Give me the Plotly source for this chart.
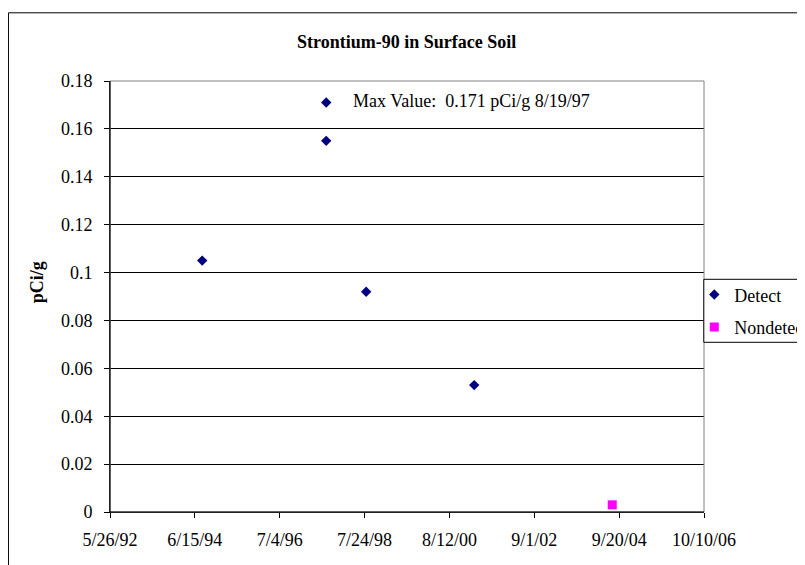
import plotly.graph_objects as go

# Data
detect_dates = ["1994-08-19", "1997-08-19", "1997-08-19", "1998-08-07", "2001-03-19"]
detect_values = [0.105, 0.171, 0.155, 0.092, 0.053]
nondetect_dates = ["2004-07-21"]
nondetect_values = [0.003]

title_text = "Strontium-90 in Surface Soil"
y_title = "pCi/g"
max_label = "Max Value:  0.171 pCi/g 8/19/97"

FONT = "Liberation Serif"
W, H = 805, 565
OFF = 8  # page body margin
# plot area in window pixels: x 110..703.7, y 80.7..511.7
L = 110 - OFF
R = W - (703.7 - OFF)
T = 80.7 - OFF
B = H - (511.7 - OFF)
PW = W - L - R
PH = H - T - B

def px_x(p):
    return (p - OFF - L) / PW

def px_y(p):
    return (H - B - (p - OFF)) / PH

fig = go.Figure()
fig.add_trace(go.Scatter(
    x=detect_dates, y=detect_values, mode="markers", name="Detect",
    legendgroup="a",
    marker=dict(symbol="diamond", size=8, color="#000080", line=dict(width=0)),
))
fig.add_trace(go.Scatter(
    x=nondetect_dates, y=nondetect_values, mode="markers", name="Nondetect",
    legendgroup="b",
    marker=dict(symbol="square", size=9, color="#FF00FF", line=dict(width=0)),
))

DAY = 86400000
fig.update_layout(
    width=W, height=H,
    margin=dict(l=L, r=R, t=T, b=B, pad=0, autoexpand=False),
    paper_bgcolor="white", plot_bgcolor="white",
    font=dict(family=FONT, size=18, color="black"),
    showlegend=True,
    legend=dict(
        x=px_x(694), xanchor="left", y=px_y(276), yanchor="top",
        borderwidth=0, bgcolor="rgba(0,0,0,0)",
        font=dict(family=FONT, size=18, color="black"),
        traceorder="grouped", tracegroupgap=6,
        itemsizing="trace",
    ),
    xaxis=dict(
        type="date", automargin=False,
        range=["1992-05-26", "2006-10-10"],
        tick0="1992-05-26", dtick=750 * DAY,
        tickformat="%-m/%-d/%y",
        showgrid=False, zeroline=False,
        showline=True, linecolor="black", linewidth=1,
        ticks="outside", ticklen=5, tickcolor="black", tickwidth=1,
        tickfont=dict(family=FONT, size=18, color="black"),
        ticklabelstandoff=6,
    ),
    yaxis=dict(
        automargin=False,
        range=[0, 0.18], dtick=0.02, tick0=0,
        showgrid=True, gridcolor="black", gridwidth=1,
        zeroline=False,
        showline=True, linecolor="black", linewidth=1,
        ticks="outside", ticklen=5, tickcolor="black", tickwidth=1,
        tickfont=dict(family=FONT, size=18, color="black"),
        ticklabelstandoff=8,
    ),
    shapes=[
        dict(type="rect", xref="paper", yref="paper", x0=0, x1=1, y0=0, y1=1,
             line=dict(color="#808080", width=1), layer="above"),
        dict(type="line", xref="paper", yref="paper", x0=0, x1=0, y0=0, y1=1,
             line=dict(color="black", width=1), layer="above"),
        dict(type="line", xref="paper", yref="paper", x0=0, x1=1, y0=0, y1=0,
             line=dict(color="black", width=1), layer="above"),
        # outer chart frame
        dict(type="rect", xref="paper", yref="paper",
             x0=px_x(8.5), x1=px_x(900), y0=px_y(700), y1=px_y(12.5),
             line=dict(color="black", width=1), layer="below"),
        # legend box
        dict(type="rect", xref="paper", yref="paper",
             x0=px_x(703.5), x1=px_x(900), y0=px_y(342), y1=px_y(279),
             line=dict(color="black", width=1), fillcolor="white", layer="above"),
    ],
    annotations=[
        dict(text="<b>" + title_text + "</b>", xref="paper", yref="paper",
             x=px_x(406), y=px_y(42), xanchor="center", yanchor="middle",
             showarrow=False, font=dict(family=FONT, size=18, color="black")),
        dict(text="<b>" + y_title + "</b>", xref="paper", yref="paper",
             x=px_x(37), y=px_y(282), xanchor="center", yanchor="middle",
             textangle=-90, showarrow=False,
             font=dict(family=FONT, size=18, color="black")),
        dict(text=max_label, xref="paper", yref="paper",
             x=px_x(351), y=px_y(101), xanchor="left", yanchor="middle",
             showarrow=False, font=dict(family=FONT, size=18, color="black")),
    ],
)

fig.write_html("out.html")
